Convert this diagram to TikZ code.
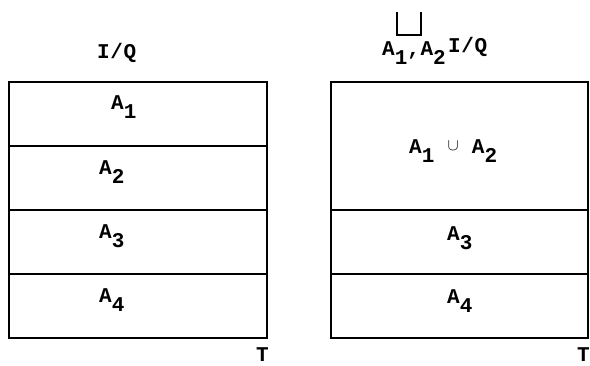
\documentclass[tikz,border=0pt]{standalone}
\usepackage{graphicx}
\usepackage{fontspec}
\setmonofont{Liberation Mono}[LetterSpace=3]
\usetikzlibrary{positioning}
\newcommand{\dn}[1]{\raisebox{-9pt}{#1}}
\tikzset{
    slab/.style={
        rectangle,
        draw,
        line width=1.6pt,
        inner sep=0pt,
        outer sep=0pt,
        minimum width=258pt,
        minimum height=64pt
    },
    tag/.style={anchor=base west, inner sep=0pt, font=\fontsize{21}{23}\selectfont\ttfamily\bfseries}
}
\begin{document}
\begin{tikzpicture}[x=1pt,y=-1pt]
\useasboundingbox (0,0) rectangle (590,365);
% left relation
\node[slab] (a1) at (138,114) {};
\node[slab, below=0pt of a1] (a2) {};
\node[slab, below=0pt of a2] (a3) {};
\node[slab, below=0pt of a3] (a4) {};
\node[tag] (iqL) at (97,58) {I/Q};
\node[tag] (la1) at (111,109) {A\dn{1}};
\node[tag] (la2) at (99,174) {A\dn{2}};
\node[tag] (la3) at (99,238) {A\dn{3}};
\node[tag] (la4) at (99,302) {A\dn{4}};
\node[tag] (tL) at (256,361) {T};
% right relation, A1 and A2 merged
\node[slab, minimum width=257pt, minimum height=128pt] (b12) at (459.5,146) {};
\node[slab, minimum width=257pt, below=0pt of b12] (b3) {};
\node[slab, minimum width=257pt, below=0pt of b3] (b4) {};
\coordinate (cupL) at (397,12);
\coordinate (cupR) at (421,12);
\draw[line width=2.4pt] (cupL) |- (409,35) -| (cupR);
\node[tag] (sub) at (382,55) {A\dn{1},A\dn{2}};
\node[tag] (iqR) at (448,52) {I/Q};
\node[tag] (lb12) at (409,153) {A\dn{1} \raisebox{3pt}{\scalebox{0.8}{$\cup$}} A\dn{2}};
\node[tag] (lb3) at (447,240) {A\dn{3}};
\node[tag] (lb4) at (447,303) {A\dn{4}};
\node[tag] (tR) at (577,361) {T};
\end{tikzpicture}
\end{document}
